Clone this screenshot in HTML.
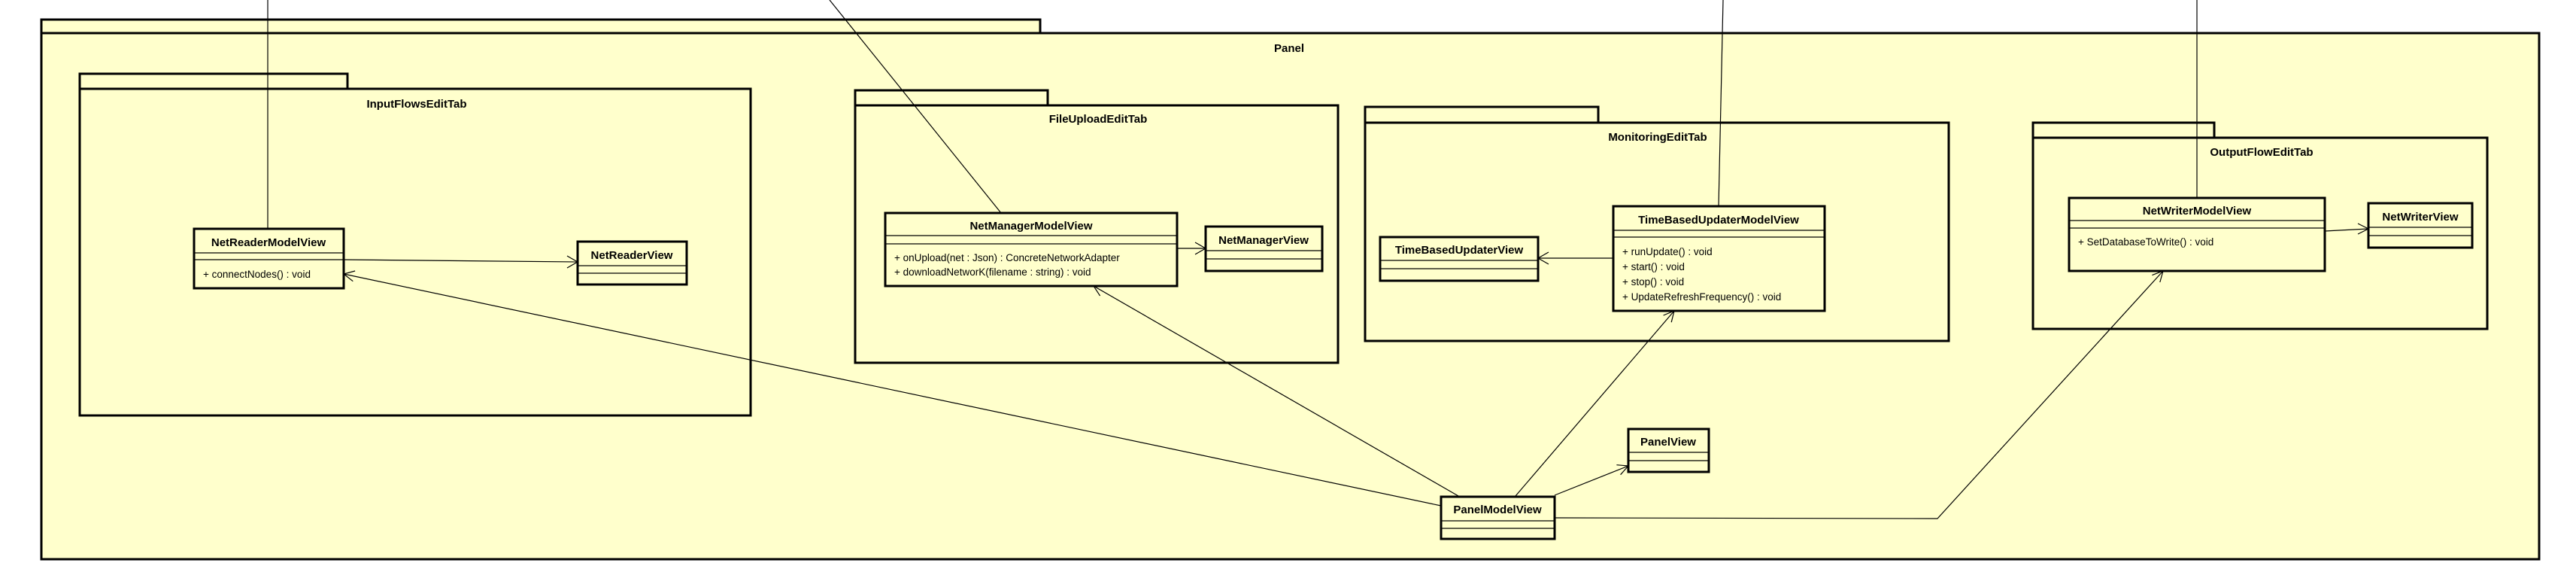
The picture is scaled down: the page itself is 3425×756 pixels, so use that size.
<!DOCTYPE html>
<html><head><meta charset="utf-8"><style>html,body{margin:0;padding:0;background:#fff}svg{display:block}text{font-family:"Liberation Sans",Arial,sans-serif;fill:#000}.n{font-weight:bold;font-size:15px;text-anchor:middle}.m{font-size:13.5px}.p{font-weight:bold;font-size:15px;text-anchor:middle}</style></head><body>
<svg width="3425" height="756" viewBox="0 0 3425 756" xmlns="http://www.w3.org/2000/svg">
<g fill="#ffffcc" stroke="#000" stroke-width="3">
<!-- Panel -->
<rect x="55" y="26" width="1328" height="18"/>
<rect x="55" y="44" width="3321" height="699"/>
<!-- InputFlowsEditTab -->
<rect x="106" y="98" width="356" height="20"/>
<rect x="106" y="118" width="892" height="434"/>
<!-- FileUploadEditTab -->
<rect x="1137" y="120" width="256" height="20"/>
<rect x="1137" y="140" width="642" height="342"/>
<!-- MonitoringEditTab -->
<rect x="1815" y="142" width="310" height="21"/>
<rect x="1815" y="163" width="776" height="290"/>
<!-- OutputFlowEditTab -->
<rect x="2703" y="163" width="241" height="20"/>
<rect x="2703" y="183" width="604" height="254"/>
<!-- classes -->
<rect x="258" y="304" width="199" height="79"/>
<rect x="768" y="321" width="145" height="57"/>
<rect x="1177" y="283" width="388" height="97"/>
<rect x="1603" y="301" width="155" height="59"/>
<rect x="1835" y="315" width="210" height="58"/>
<rect x="2145" y="274" width="281" height="139"/>
<rect x="2165" y="570" width="107" height="57"/>
<rect x="1916" y="660" width="151" height="56"/>
<rect x="2751" y="263" width="340" height="97"/>
<rect x="3149" y="270" width="138" height="59"/>
</g>
<g stroke="#000" stroke-width="1.2" fill="none">
<!-- separators -->
<path d="M258 336H457M258 345H457"/>
<path d="M768 353H913M768 363H913"/>
<path d="M1177 313H1565M1177 324H1565"/>
<path d="M1603 333H1758M1603 344H1758"/>
<path d="M1835 346H2045M1835 357H2045"/>
<path d="M2145 306H2426M2145 315H2426"/>
<path d="M2165 601H2272M2165 612H2272"/>
<path d="M1916 692H2067M1916 702H2067"/>
<path d="M2751 293H3091M2751 303H3091"/>
<path d="M3149 302H3287M3149 313H3287"/>
<!-- connectors -->
<path d="M356 0V304"/>
<path d="M1103 0L1331 283"/>
<path d="M2291 0L2285 274"/>
<path d="M2921 0V263"/>
<path d="M457 345L768 348"/>
<path d="M754 340L768 348L754 356"/>
<path d="M1916 672L457 364"/>
<path d="M469.3 373.7L457 364L472.1 360"/>
<path d="M1565 330H1603"/>
<path d="M1589 322L1603 330L1589 338"/>
<path d="M1939 659L1454 380"/>
<path d="M1462.6 393.1L1454 380L1469.6 380.9"/>
<path d="M2015 659L2226 413"/>
<path d="M2222.2 428.2L2226 413L2211.6 419"/>
<path d="M2145 343H2045"/>
<path d="M2059 335L2045 343L2059 351"/>
<path d="M2067 658L2165 619"/>
<path d="M2149.4 617.7L2165 619L2154.6 630.7"/>
<path d="M2067 688L2576 689L2876 360"/>
<path d="M2871.8 375L2876 360L2861.4 365.6"/>
<path d="M3091 307L3149 304"/>
<path d="M3135 297L3149 304L3135 311"/>
</g>
<text class="p" x="1714" y="69">Panel</text>
<text class="p" x="554" y="143">InputFlowsEditTab</text>
<text class="p" x="1460" y="163">FileUploadEditTab</text>
<text class="p" x="2204" y="187">MonitoringEditTab</text>
<text class="p" x="3007" y="207">OutputFlowEditTab</text>
<text class="n" x="357" y="327">NetReaderModelView</text>
<text class="m" x="270" y="369">+ connectNodes() : void</text>
<text class="n" x="840" y="344">NetReaderView</text>
<text class="n" x="1371" y="305">NetManagerModelView</text>
<text class="m" x="1189" y="347">+ onUpload(net : Json) : ConcreteNetworkAdapter</text>
<text class="m" x="1189" y="366">+ downloadNetworK(filename : string) : void</text>
<text class="n" x="1680" y="324">NetManagerView</text>
<text class="n" x="1940" y="337">TimeBasedUpdaterView</text>
<text class="n" x="2285" y="297">TimeBasedUpdaterModelView</text>
<text class="m" x="2157" y="339">+ runUpdate() : void</text>
<text class="m" x="2157" y="359">+ start() : void</text>
<text class="m" x="2157" y="379">+ stop() : void</text>
<text class="m" x="2157" y="399">+ UpdateRefreshFrequency() : void</text>
<text class="n" x="2218" y="592">PanelView</text>
<text class="n" x="1991" y="682">PanelModelView</text>
<text class="n" x="2921" y="285">NetWriterModelView</text>
<text class="m" x="2763" y="326">+ SetDatabaseToWrite() : void</text>
<text class="n" x="3218" y="293">NetWriterView</text>
</svg>
</body></html>
